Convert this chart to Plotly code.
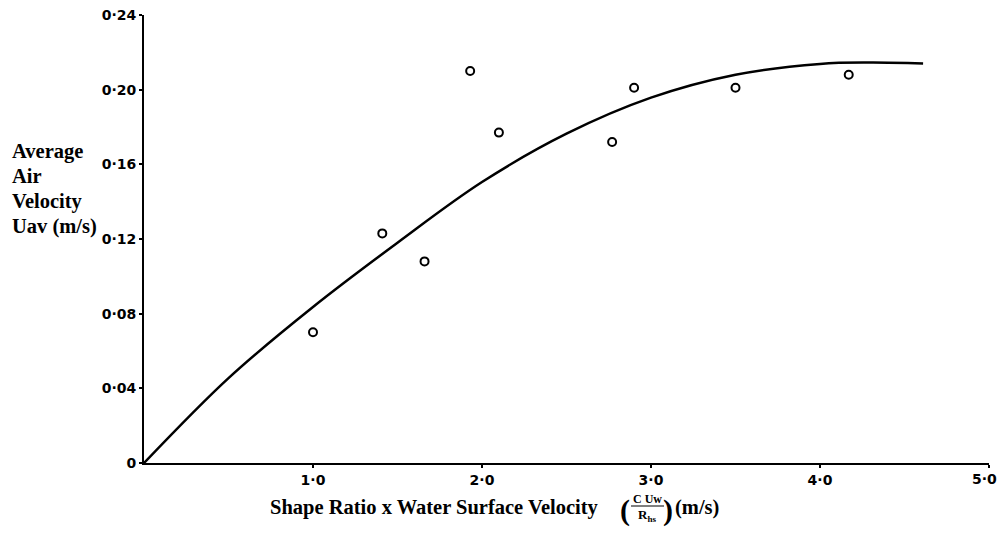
import plotly.graph_objects as go

# Observed data points
obs_x = [1.00, 1.41, 1.66, 1.93, 2.10, 2.77, 2.90, 3.50, 4.17]
obs_y = [0.070, 0.123, 0.108, 0.210, 0.177, 0.172, 0.201, 0.201, 0.208]

# Fitted curve
fit_x = [0, 0.5, 1.0, 1.5, 2.0, 2.5, 3.0, 3.5, 4.0, 4.3, 4.61]
fit_y = [0, 0.0455, 0.0836, 0.118, 0.1505, 0.1764, 0.1957, 0.208, 0.2138, 0.2145, 0.2140]

x_tickvals = [1, 2, 3, 4, 5]
x_ticktext = ["1·0", "2·0", "3·0", "4·0", "5·0"]
y_tickvals = [0, 0.04, 0.08, 0.12, 0.16, 0.20, 0.24]
y_ticktext = ["0", "0·04", "0·08", "0·12", "0·16", "0·20", "0·24"]

y_title_lines = ["Average", "Air", "Velocity", "Uav (m/s)"]

OFF = 8  # page body margin
W, H = 1007 - 2 * OFF, 536 - 2 * OFF
# screen-space plot box: x 144..989, y 15..463
L, T = 144 - OFF, 15 - OFF
R = W - (989 - OFF)
B = H - (463 - OFF)
PW, PH = W - L - R, H - T - B

def px(xs):
    return (xs - OFF - L) / PW

def py(ys):
    return (H - B - (ys - OFF)) / PH

fig = go.Figure()
fig.add_trace(go.Scatter(x=fit_x, y=fit_y, mode="lines",
                         line=dict(color="black", width=2.5, shape="spline", smoothing=1.0),
                         showlegend=False, hoverinfo="skip"))
fig.add_trace(go.Scatter(x=obs_x, y=obs_y, mode="markers",
                         marker=dict(symbol="circle-open", size=8, color="black",
                                     line=dict(width=2, color="black")),
                         showlegend=False))

tickfont = dict(family="DejaVu Sans", size=14, color="black", weight="bold")
common = dict(showline=True, linecolor="black", linewidth=2,
              ticks="outside", ticklen=3, tickwidth=1.5, tickcolor="black",
              showgrid=False, zeroline=False, tickfont=tickfont, automargin=False,
              ticklabeloverflow="allow")
# last x label sits at the page edge: draw it as an annotation pulled inside
fig.update_xaxes(range=[0, 5], tickvals=x_tickvals,
                 ticktext=x_ticktext[:-1] + [""], **common)
fig.update_yaxes(range=[0, 0.24], tickvals=y_tickvals, ticktext=y_ticktext, **common)

serif = "Liberation Serif"
ann = []
ann.append(dict(text=x_ticktext[-1], x=px(999), y=py(479), xref="paper", yref="paper",
                xanchor="right", yanchor="middle", showarrow=False, font=tickfont))
for i, line in enumerate(y_title_lines):
    ann.append(dict(text="<b>%s</b>" % line,
                    x=px(10), y=py(151 + 25 * i), xref="paper", yref="paper",
                    xanchor="left", yanchor="middle", align="left", showarrow=False,
                    font=dict(family=serif, size=20.5, color="black")))
ann.append(dict(text="<b>Shape Ratio x Water Surface Velocity</b>",
                x=px(268), y=py(507), xref="paper", yref="paper",
                xanchor="left", yanchor="middle", showarrow=False,
                font=dict(family=serif, size=20.5, color="black")))
ann.append(dict(text="<b>C Uw</b>", x=px(647), y=py(499), xref="paper", yref="paper",
                xanchor="center", yanchor="middle", showarrow=False,
                font=dict(family=serif, size=12, color="black")))
ann.append(dict(text="<b>R<sub>hs</sub></b>", x=px(647), y=py(515), xref="paper", yref="paper",
                xanchor="center", yanchor="middle", showarrow=False,
                font=dict(family=serif, size=13, color="black")))
ann.append(dict(text="<b>(</b>", x=px(625), y=py(510), xref="paper", yref="paper",
                xanchor="center", yanchor="middle", showarrow=False,
                font=dict(family=serif, size=30, color="black")))
ann.append(dict(text="<b>)</b>", x=px(668), y=py(510), xref="paper", yref="paper",
                xanchor="center", yanchor="middle", showarrow=False,
                font=dict(family=serif, size=30, color="black")))
ann.append(dict(text="<b>(m/s)</b>", x=px(673), y=py(507), xref="paper", yref="paper",
                xanchor="left", yanchor="middle", showarrow=False,
                font=dict(family=serif, size=20.5, color="black")))

fig.update_layout(
    width=W, height=H,
    margin=dict(l=L, r=R, t=T, b=B, pad=0),
    paper_bgcolor="white", plot_bgcolor="white",
    annotations=ann,
    shapes=[dict(type="line", xref="paper", yref="paper",
                 x0=px(631), x1=px(664), y0=py(506), y1=py(506),
                 line=dict(color="black", width=1.2))],
)

fig.write_html("out.html")
